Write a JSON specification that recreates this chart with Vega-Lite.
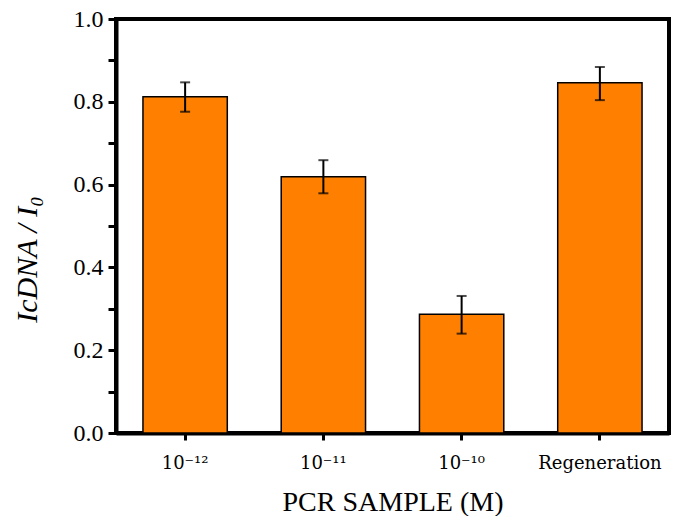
{
  "$schema": "https://vega.github.io/schema/vega-lite/v6.json",
  "width": 553,
  "height": 414,
  "padding": {"left": 12, "top": 7, "right": 8, "bottom": 2},
  "background": "white",
  "config": {
    "view": {"stroke": "black", "strokeWidth": 4},
    "font": "Liberation Serif"
  },
  "data": {
    "values": [
      {"sample": "10⁻¹²", "value": 0.812, "lo": 0.776, "hi": 0.847},
      {"sample": "10⁻¹¹", "value": 0.619, "lo": 0.579, "hi": 0.659},
      {"sample": "10⁻¹⁰", "value": 0.287, "lo": 0.240, "hi": 0.331},
      {"sample": "Regeneration", "value": 0.846, "lo": 0.804, "hi": 0.884}
    ]
  },
  "encoding": {
    "x": {
      "field": "sample",
      "type": "nominal",
      "sort": null,
      "scale": {"paddingInner": 0.39, "paddingOuter": 0.195},
      "axis": {
        "title": "PCR SAMPLE (M)",
        "titleFont": "Liberation Serif",
        "titleFontSize": 28,
        "titleFontWeight": "normal",
        "titleColor": "black",
        "titlePadding": 16,
        "labelFont": "DejaVu Serif",
        "labelFontSize": 18,
        "labelColor": "black",
        "labelAngle": 0,
        "labelPadding": 14,
        "domainColor": "black",
        "domainWidth": 4,
        "tickColor": "black",
        "tickWidth": 3,
        "tickSize": 7
      }
    }
  },
  "layer": [
    {
      "mark": {"type": "bar", "fill": "#FF8000", "stroke": "black", "strokeWidth": 1.5},
      "encoding": {
        "y": {
          "field": "value",
          "type": "quantitative",
          "scale": {"domain": [0, 1], "nice": false},
          "axis": {
            "title": "IcDNA / I₀",
            "titleFont": "Liberation Serif",
            "titleFontStyle": "italic",
            "titleFontSize": 30,
            "titleFontWeight": "normal",
            "titleColor": "black",
            "titlePadding": 31,
            "titleY": 240,
            "values": [0, 0.1, 0.2, 0.3, 0.4, 0.5, 0.6, 0.7, 0.8, 0.9, 1.0],
            "labelExpr": "(round(datum.value * 10) % 2 == 0) ? format(datum.value, '.1f') : ''",
            "labelFont": "Liberation Serif",
            "labelFontSize": 24,
            "labelColor": "black",
            "labelPadding": 5,
            "domainColor": "black",
            "domainWidth": 4,
            "tickColor": "black",
            "tickWidth": 3,
            "tickSize": 8,
            "grid": false
          }
        }
      }
    },
    {
      "mark": {"type": "rule", "color": "black", "strokeWidth": 2},
      "encoding": {
        "y": {"field": "lo", "type": "quantitative"},
        "y2": {"field": "hi"}
      }
    },
    {
      "mark": {"type": "tick", "color": "black", "thickness": 2, "size": 10},
      "encoding": {"y": {"field": "lo", "type": "quantitative"}}
    },
    {
      "mark": {"type": "tick", "color": "black", "thickness": 2, "size": 10},
      "encoding": {"y": {"field": "hi", "type": "quantitative"}}
    }
  ]
}
